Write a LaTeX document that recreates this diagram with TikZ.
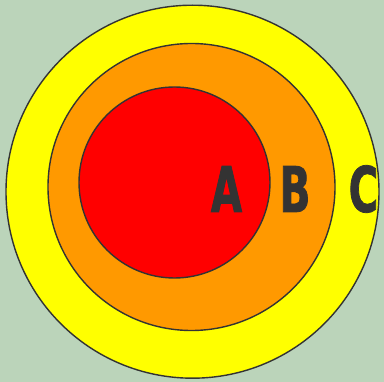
\documentclass[tikz,border=0pt]{standalone}
\usepackage{fontspec}
\newfontfamily\lblfont{DejaVu Sans}[FakeStretch=0.64, BoldFeatures={FakeBold=1.2}]
\usetikzlibrary{positioning}
\definecolor{bgGreen}{HTML}{BBD4BA}
\definecolor{ringLine}{HTML}{333333}
\definecolor{ringC}{HTML}{FFFF00}
\definecolor{ringB}{HTML}{FF9900}
\definecolor{ringA}{HTML}{FF0000}
\tikzset{
  ring/.style={circle, draw=ringLine, line width=1.4pt, inner sep=0pt},
  ring-label/.style={font=\lblfont\bfseries\fontsize{63}{63}\selectfont,
    text=ringLine, inner sep=0pt, anchor=center}
}
\begin{document}
\begin{tikzpicture}[x=1pt, y=-1pt]
% Background
\fill[bgGreen] (0,0) rectangle (384,382);
\useasboundingbox (0,0) rectangle (384,382);

% Rings
\node[ring, fill=ringC, minimum size=373pt] (setC) at (192.5,191.7) {};
\node[ring, fill=ringB, minimum size=287pt] (setB) at (191.5,187) {};
\node[ring, fill=ringA, minimum size=191pt] (setA) at (174.5,182.5) {};

% Labels
\node[ring-label] (lblA) at (226.5,189) {A};
\node[ring-label] (lblB) at (295,189) {B};
\node[ring-label] (lblC) at (363.5,189) {C};
\end{tikzpicture}
\end{document}
